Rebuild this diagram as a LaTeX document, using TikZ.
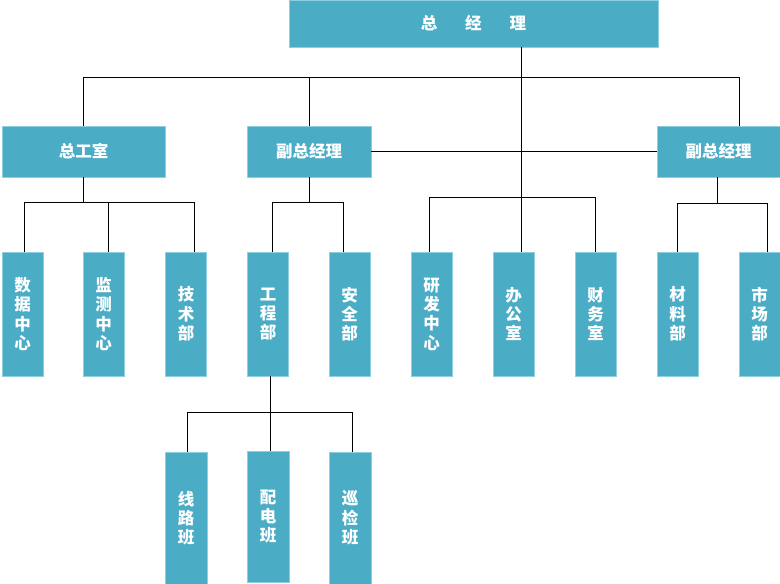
\documentclass[tikz,border=0pt]{standalone}
\usepackage{fontspec}
\setmainfont{Noto Sans CJK SC}
\definecolor{boxblue}{HTML}{4BACC6}
\definecolor{boxedge}{HTML}{8DCFDF}
\begin{document}
\begin{tikzpicture}[x=1pt,y=-1pt,
  box/.style={rectangle,fill=boxblue,draw=boxedge,line width=0.8pt,inner sep=0pt,
    text=white,align=center,font=\fontsize{16.5}{19.3}\selectfont\bfseries},
  hbox/.style={box,minimum height=51pt},
  vbox/.style={box,minimum width=41pt,minimum height=124pt},
  wbox/.style={box,minimum width=42pt,minimum height=132pt},
  conn/.style={draw=black,line width=0.8pt}]
\useasboundingbox (0,0) rectangle (780,584);
% nodes
\node[box,minimum width=369pt,minimum height=47pt] (top) at (473.5,23.5) {总\hspace{28pt}经\hspace{28pt}理};
\node[hbox,minimum width=163pt] (zgs) at (83.5,151.5) {总工室};
\node[hbox,minimum width=124pt] (fzL) at (309,151.5) {副总经理};
\node[hbox,minimum width=123pt] (fzR) at (718.5,151.5) {副总经理};
\node[vbox] (sj) at (22.5,314) {数\\据\\中\\心};
\node[vbox] (jc) at (103.5,314) {监\\测\\中\\心};
\node[vbox] (js) at (186,314) {技\\术\\部};
\node[vbox] (gc) at (268,314) {工\\程\\部};
\node[vbox] (aq) at (349.5,314) {安\\全\\部};
\node[vbox] (yf) at (431.5,314) {研\\发\\中\\心};
\node[vbox] (bg) at (513.5,314) {办\\公\\室};
\node[vbox] (cw) at (595.5,314) {财\\务\\室};
\node[vbox] (cl) at (677.5,314) {材\\料\\部};
\node[vbox] (sc) at (759.5,314) {市\\场\\部};
\node[wbox] (xl) at (186,518) {线\\路\\班};
\node[wbox,minimum height=131pt] (pd) at (268,516.5) {配\\电\\班};
\node[wbox] (xj) at (350,518) {巡\\检\\班};
% junction levels
\coordinate (m) at (521,77);
\coordinate (b1) at (0,202);
\coordinate (b2) at (0,197);
\coordinate (b3) at (0,203);
\coordinate (b4) at (0,412);
% top level
\draw[conn] (m |- top.south) -- (m);
\draw[conn] (zgs.north) -- (zgs.north |- m) -- ([xshift=20.5pt]fzR.north |- m) -- ([xshift=20.5pt]fzR.north);
\draw[conn] (fzL.north) -- (fzL.north |- m);
\draw[conn] (m) -- (m |- bg.north);
\draw[conn] (fzL.east) -- (fzR.west);
% 总工室 group
\draw[conn] (zgs.south) -- (zgs.south |- b1);
\draw[conn] ([xshift=1.5pt]sj.north) -- ([xshift=1.5pt]sj.north |- b1) -- ([xshift=8pt]js.north |- b1) -- ([xshift=8pt]js.north);
\draw[conn] ([xshift=4.5pt]jc.north) -- ([xshift=4.5pt]jc.north |- b1);
% 副总经理 left group
\draw[conn] (fzL.south) -- (fzL.south |- b1);
\draw[conn] ([xshift=4pt]gc.north) -- ([xshift=4pt]gc.north |- b1) -- ([xshift=-6.5pt]aq.north |- b1) -- ([xshift=-6.5pt]aq.north);
% center group
\draw[conn] ([xshift=-2.5pt]yf.north) -- ([xshift=-2.5pt]yf.north |- b2) -- ([xshift=-0.5pt]cw.north |- b2) -- ([xshift=-0.5pt]cw.north);
% 副总经理 right group
\draw[conn] ([xshift=-1.5pt]fzR.south) -- ([xshift=-1.5pt]fzR.south |- b3);
\draw[conn] ([xshift=-0.5pt]cl.north) -- ([xshift=-0.5pt]cl.north |- b3) -- ([xshift=7.5pt]sc.north |- b3) -- ([xshift=7.5pt]sc.north);
% 工程部 group
\draw[conn] ([xshift=2pt]gc.south) -- ([xshift=2pt]gc.south |- b4);
\draw[conn] ([xshift=1pt]xl.north) -- ([xshift=1pt]xl.north |- b4) -- ([xshift=2pt]xj.north |- b4) -- ([xshift=2pt]xj.north);
\draw[conn] ([xshift=2pt]pd.north) -- ([xshift=2pt]pd.north |- b4);
\end{tikzpicture}
\end{document}
